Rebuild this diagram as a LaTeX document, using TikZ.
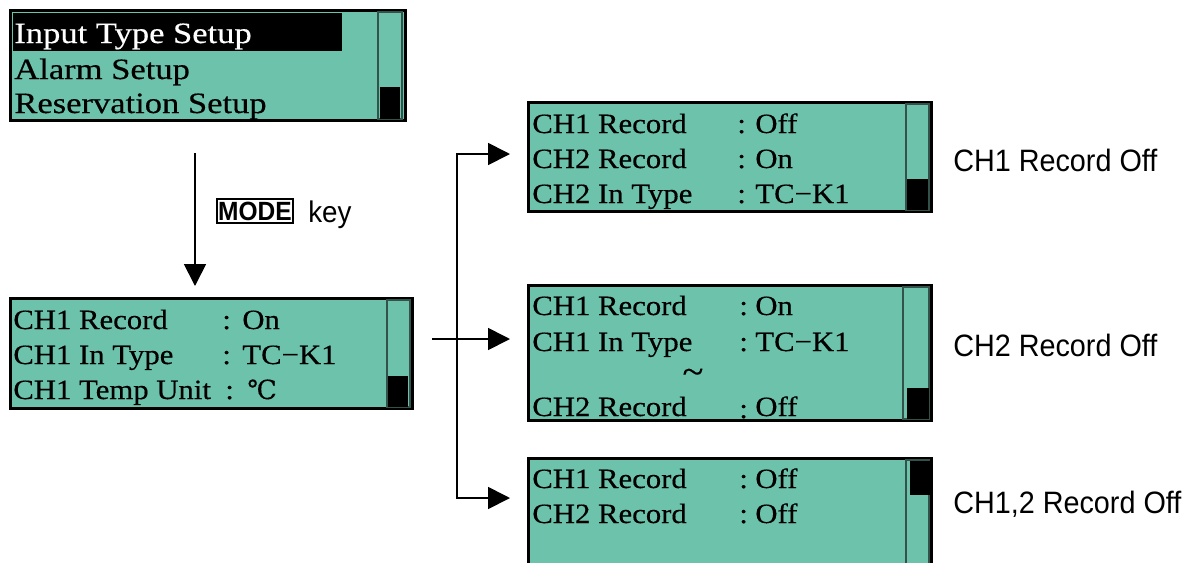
\documentclass[tikz,border=0pt]{standalone}
\usepackage{fontspec}
\setmainfont{Liberation Serif}
\newfontfamily\lcdfont[FakeStretch=1.1,FakeBold=0.4]{Liberation Serif}
\newfontfamily\topfont[FakeStretch=1.17,FakeBold=0.4]{Liberation Serif}
\newfontfamily\labfont[FakeStretch=0.93]{Liberation Sans}
\newfontfamily\symfont[FakeBold=0.3]{DejaVu Serif}
\usetikzlibrary{arrows.meta}
\definecolor{lcdgreen}{HTML}{6CC2AA}
\definecolor{sbline}{HTML}{33524A}
\tikzset{
  panel/.style={draw=black, line width=1.7pt, fill=lcdgreen, inner sep=0pt, outer sep=0pt, anchor=north west},
  lcdtxt/.style={font=\lcdfont\fontsize{15.9pt}{18pt}\selectfont, inner sep=0pt, anchor=base west},
  toptxt/.style={font=\topfont\fontsize{16.8pt}{19pt}\selectfont, inner sep=0pt, anchor=base west},
  labtxt/.style={font=\labfont\fontsize{17.6pt}{20pt}\selectfont, inner sep=0pt, anchor=base west},
  sbar/.style={draw=sbline, line width=1.1pt},
  thumb/.style={fill=black},
  arr/.style={line width=1pt, -{Triangle[length=12.5pt,width=12.5pt]}},
  keybox/.style={draw=black, line width=1pt, inner sep=0pt, minimum width=1.52cm, minimum height=0.48cm,
    font=\labfont\bfseries\fontsize{15pt}{17pt}\selectfont}
}
\begin{document}
\begin{tikzpicture}[x=0.02cm,y=-0.02cm]
\clip (0,0) rectangle (1194,562);
\fill[white] (0,0) rectangle (1194,562);

% panels
\node[panel, minimum width=7.9cm, minimum height=2.2cm] (p1) at (10.5,10.5) {};
\node[panel, minimum width=8.04cm, minimum height=2.2cm] (p2) at (10.5,298.5) {};
\node[panel, minimum width=8.06cm, minimum height=2.18cm] (pa) at (528.5,102.5) {};
\node[panel, minimum width=8.06cm, minimum height=2.7cm] (pb) at (528.5,285.5) {};
\node[panel, minimum width=8.06cm, minimum height=2.9cm] (pc) at (528.5,458.5) {};

% scroll bars
\draw[sbar] (378,12) rectangle (402,119);
\fill[thumb] (380,87) rectangle (400,119);
\draw[sbar] (387,300) rectangle (410,407);
\fill[thumb] (388,376) rectangle (408,407);
\draw[sbar] (906,104) rectangle (929,210);
\fill[thumb] (907,179) rectangle (928,210);
\draw[sbar] (903,287) rectangle (929,419);
\fill[thumb] (907,388) rectangle (929,419);
\draw[sbar] (906,460) rectangle (929,600);
\fill[thumb] (910,461) rectangle (930,495);

% panel 1 text
\fill[black] (13,13) rectangle (342,51);
\node[toptxt, text=white] (t11) at (14,43) {Input Type Setup};
\node[toptxt] (t12) at (14,79) {Alarm Setup};
\node[toptxt] (t13) at (14,113) {Reservation Setup};

% panel 2 text
\node[lcdtxt] (t21) at (13,329) {CH1 Record};
\node[lcdtxt] (c21) at (222,329) {:};
\node[lcdtxt] (v21) at (242,329) {On};
\node[lcdtxt] (t22) at (13,364) {CH1 In Type};
\node[lcdtxt] (c22) at (222,364) {:};
\node[lcdtxt] (v22) at (242,364) {TC−K1};
\node[lcdtxt] (t23) at (13,399) {CH1 Temp Unit};
\node[lcdtxt] (c23) at (225,399) {:};
\node[lcdtxt] (v23) at (247,399) {\symfont\fontsize{15pt}{18pt}\selectfont ℃};

% panel A text
\node[lcdtxt] (ta1) at (532,133) {CH1 Record};
\node[lcdtxt] (ca1) at (737,133) {:};
\node[lcdtxt] (va1) at (755,133) {Off};
\node[lcdtxt] (ta2) at (532,168) {CH2 Record};
\node[lcdtxt] (ca2) at (737,168) {:};
\node[lcdtxt] (va2) at (755,168) {On};
\node[lcdtxt] (ta3) at (532,203) {CH2 In Type};
\node[lcdtxt] (ca3) at (737,203) {:};
\node[lcdtxt] (va3) at (755,203) {TC−K1};

% panel B text
\node[lcdtxt] (tb1) at (532,315) {CH1 Record};
\node[lcdtxt] (cb1) at (739,315) {:};
\node[lcdtxt] (vb1) at (755,315) {On};
\node[lcdtxt] (tb2) at (532,351) {CH1 In Type};
\node[lcdtxt] (cb2) at (739,351) {:};
\node[lcdtxt] (vb2) at (755,351) {TC−K1};
\node[lcdtxt, anchor=center, font=\lcdfont\fontsize{20pt}{20pt}\selectfont] (tbt) at (693,376) {\textasciitilde};
\node[lcdtxt] (tb3) at (532,416) {CH2 Record};
\node[lcdtxt] (cb3) at (739,418) {:};
\node[lcdtxt] (vb3) at (755,416) {Off};

% panel C text
\node[lcdtxt] (tc1) at (532,488) {CH1 Record};
\node[lcdtxt] (cc1) at (739,488) {:};
\node[lcdtxt] (vc1) at (755,488) {Off};
\node[lcdtxt] (tc2) at (532,523) {CH2 Record};
\node[lcdtxt] (cc2) at (739,523) {:};
\node[lcdtxt] (vc2) at (755,523) {Off};

% labels
\node[labtxt] (la) at (953,171) {CH1 Record Off};
\node[labtxt] (lb) at (953,356) {CH2 Record Off};
\node[labtxt] (lc) at (953,513) {CH1,2 Record Off};

% MODE key
\node[keybox] (mode) at (255,211) {MODE};
\node[labtxt, font=\labfont\fontsize{17pt}{20pt}\selectfont] (key) at (308,222) {key};

% connectors
\coordinate (a1s) at (195,153);
\coordinate (a1e) at (195,286);
\draw[arr] (a1s) -- (a1e);
\coordinate (bs) at (432,339);
\coordinate (be) at (510,339);
\coordinate (jv) at (457,339);
\coordinate (ae) at (510,154);
\coordinate (ce) at (510,498);
\draw[arr] (bs) -- (be);
\draw[arr] (jv) |- (ae);
\draw[arr] (jv) |- (ce);
\end{tikzpicture}
\end{document}
